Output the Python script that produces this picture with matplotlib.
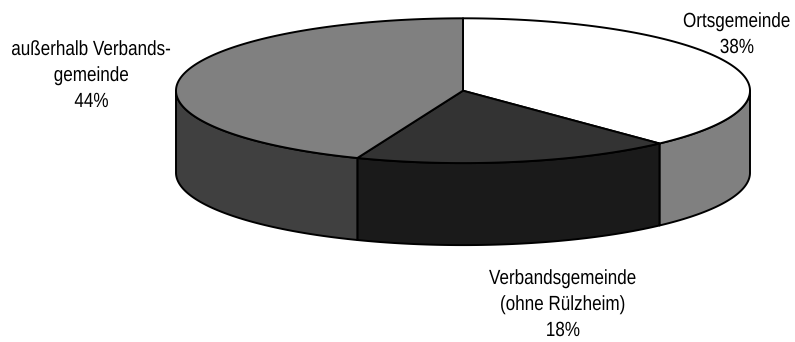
import numpy as np
import matplotlib
matplotlib.use("Agg")
import matplotlib.pyplot as plt
from matplotlib.patches import Polygon
from matplotlib import patheffects
from matplotlib.transforms import Affine2D

# Shares of the three origin groups (percent)
categories = ["Ortsgemeinde", "Verbandsgemeinde\n(ohne Rülzheim)", "außerhalb Verbands-\ngemeinde"]
shares = [38, 18, 44]
top_colors = ["#ffffff", "#333333", "#808080"]
side_colors = ["#808080", "#1a1a1a", "#404040"]

W, H = 795, 342
fig = plt.figure(figsize=(W / 100, H / 100), dpi=100)
ax = fig.add_axes([0, 0, 1, 1])
ax.set_xlim(0, W)
ax.set_ylim(H, 0)
ax.axis("off")

# 3D pie geometry (pixel units, y grows downwards)
cx, cy = 463.0, 90.7
rx, ry = 287.0, 72.4
depth = 82
lw = 1.4


def rim(a0, a1, n=240):
    """Points on the top ellipse between clockwise angles a0..a1 (degrees from 12 o'clock)."""
    t = np.radians(np.linspace(a0, a1, n))
    return np.column_stack([cx + rx * np.sin(t), cy - ry * np.cos(t)])


bounds = np.concatenate([[0], np.cumsum(shares)]) * 3.6

# Side walls: only the front half (90..270 deg) is visible
for i in range(len(shares)):
    a0, a1 = max(bounds[i], 90), min(bounds[i + 1], 270)
    if a1 <= a0:
        continue
    upper = rim(a0, a1)
    lower = upper[::-1] + np.array([0, depth])
    ax.add_patch(Polygon(np.vstack([upper, lower]), closed=True,
                         facecolor=side_colors[i], edgecolor="black",
                         linewidth=lw, joinstyle="round"))

# Top faces
for i in range(len(shares)):
    pts = np.vstack([[cx, cy], rim(bounds[i], bounds[i + 1])])
    ax.add_patch(Polygon(pts, closed=True, facecolor=top_colors[i],
                         edgecolor="black", linewidth=lw, joinstyle="round"))


class TallGlyphs(patheffects.AbstractPathEffect):
    """Stretch glyphs vertically about their baseline (narrow, tall lettering)."""

    def __init__(self, sy):
        super().__init__()
        self.sy = sy

    def draw_path(self, renderer, gc, tpath, affine, rgbFace=None):
        renderer.draw_path(gc, tpath, Affine2D().scale(1.0, self.sy) + affine, rgbFace)


# Data labels
font = dict(family="Liberation Sans", fontsize=12.3, color="black",
            ha="center", va="baseline", path_effects=[TallGlyphs(1.2)])

label_pos = [(737, [27, 53]), (563, [284, 310, 336]), (91.5, [55, 81, 107])]
for name, share, (x, ys) in zip(categories, shares, label_pos):
    lines = name.split("\n") + [f"{share}%"]
    for line, y in zip(lines, ys):
        ax.text(x, y, line, **font)

fig.savefig("out.png", dpi=100)
